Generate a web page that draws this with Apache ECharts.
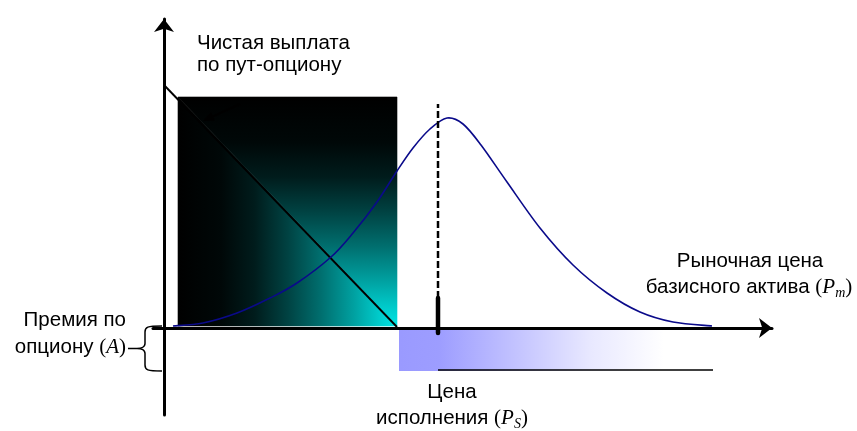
<!DOCTYPE html>
<html><head><meta charset="utf-8">
<script src="https://cdn.jsdelivr.net/npm/echarts@6/dist/echarts.min.js"></script>
<style>html,body{margin:0;padding:0;background:#fff}#c{width:857px;height:431px}</style>
</head><body><div id="c"></div>
<script>
// ---- data (schematic units: x = market price, y = payoff) ----
const densityX = [9, 39, 73, 106, 133, 167, 189, 213, 233, 249, 266, 283, 299, 317, 343, 376, 409, 443, 476, 509, 548];
const densityY = [2, 5, 15, 30, 45, 71, 95, 126, 157, 180, 199, 210, 204, 183, 146, 100, 63, 35, 16, 6, 2];
const putPayoffX = [0, 233];
const putPayoffY = [243, 1];
const gainBoxX = [14, 233];
const gainBoxY = [2, 231];
const meanPrice = 274;
const meanLineY = [30, 224];
const meanTickY = [-5, 30];
const premiumBandX = [235, 500];
const premiumBandY = [-1.5, -43];
const premiumLineX = [274, 549];
const premiumLineY = -42;
const braceX = [-36, -27, -19, -2];   // dash start, tip, spine, ends
const braceY = [2, -20.5, -43];       // top, middle, bottom
const pointerFrom = [76, 224];
const pointerTo = [39, 207];

const X0 = -11, X1 = 608, Y0 = -87, Y1 = 309;
const SANS = "'Liberation Sans', Arial, sans-serif";
const SERIF = "'Liberation Serif', 'Times New Roman', serif";
const FS = 20.5;

const chart = echarts.init(document.getElementById('c'), null, {renderer: 'canvas'});

const stops = [
  {offset: 0, color: '#000000'}, {offset: 0.2, color: '#000808'},
  {offset: 0.35, color: '#001c1c'}, {offset: 0.5, color: '#004242'},
  {offset: 0.65, color: '#006e6e'}, {offset: 0.8, color: '#00a0a0'},
  {offset: 0.92, color: '#00cccc'}, {offset: 1, color: '#00e4e4'}
];

function axisCfg(min, max) {
  return {
    type: 'value', min: min, max: max, z: 10,
    axisLine: {show: true, onZero: true, symbol: ['none', 'arrow'], symbolSize: [15, 13],
      lineStyle: {color: '#000', width: 3}},
    axisTick: {show: false}, axisLabel: {show: false}, splitLine: {show: false}
  };
}

function seg(name, pts, style, z) {
  return {type: 'line', name: name, data: pts, symbol: 'none', silent: true, z: z || 4,
    lineStyle: style, animation: false};
}

function txt(str, x, baseline, align, rich) {
  return {type: 'text', z: 20, style: {
    text: str, x: x, y: baseline - 0.34 * FS, align: align, verticalAlign: 'middle',
    font: FS + 'px ' + SANS, fill: '#000', rich: rich || undefined
  }};
}

const richMath = {
  p: {fontFamily: SERIF, fontSize: 21, lineHeight: 22},
  i: {fontFamily: SERIF, fontStyle: 'italic', fontSize: 21, lineHeight: 22},
  s: {fontFamily: SERIF, fontStyle: 'italic', fontSize: 14, lineHeight: 8, padding: [12, 0, 0, 0]},
  t: {fontFamily: SANS, fontSize: FS, lineHeight: 22}
};

const option = {
  animation: false,
  backgroundColor: '#fff',
  grid: {left: 153, right: 85, top: 19, bottom: 16},
  xAxis: axisCfg(X0, X1),
  yAxis: axisCfg(Y0, Y1),
  series: [
    {
      type: 'custom', z: 1, silent: true,
      data: [[gainBoxX[0], gainBoxY[0], gainBoxX[1], gainBoxY[1]]],
      renderItem: function (params, api) {
        const tl = api.coord([api.value(0), api.value(3)]);
        const tr = api.coord([api.value(2), api.value(3)]);
        const br = api.coord([api.value(2), api.value(1)]);
        const bl = api.coord([api.value(0), api.value(1)]);
        const gH = new echarts.graphic.LinearGradient(0, 0, 1, 0, stops);
        const gV = new echarts.graphic.LinearGradient(0, 0, 0, 1, stops);
        return {type: 'group', children: [
          {type: 'polygon', shape: {points: [bl, br, tl]}, style: {fill: gH, stroke: gH, lineWidth: 0.6}},
          {type: 'polygon', shape: {points: [tl, tr, br]}, style: {fill: gV, stroke: gV, lineWidth: 0.6}}
        ]};
      }
    },
    {
      type: 'custom', z: 1, silent: true,
      data: [[premiumBandX[0], premiumBandY[0], premiumBandX[1], premiumBandY[1]]],
      renderItem: function (params, api) {
        const a = api.coord([api.value(0), api.value(1)]);
        const b = api.coord([api.value(2), api.value(3)]);
        return {type: 'rect', shape: {x: a[0], y: a[1], width: b[0] - a[0], height: b[1] - a[1]},
          style: {fill: new echarts.graphic.LinearGradient(0, 0, 1, 0, [
            {offset: 0, color: '#9a9aff'}, {offset: 0.15, color: '#9d9dff'},
            {offset: 0.45, color: '#c4c4ff'}, {offset: 0.72, color: '#e8e8ff'},
            {offset: 1, color: '#ffffff'}])}};
      }
    },
    seg('payoff', putPayoffX.map((x, k) => [x, putPayoffY[k]]), {color: '#000', width: 1.9}, 4),
    {
      type: 'custom', name: 'density', z: 5, silent: true,
      data: densityX.map((x, k) => [x, densityY[k]]),
      renderItem: function (params, api) {
        if (params.dataIndex !== 0) return null;
        const pts = densityX.map((x, k) => api.coord([x, densityY[k]]));
        let d = 'M' + pts[0][0] + ' ' + pts[0][1];
        const t = 0.5;
        for (let k = 0; k < pts.length - 1; k++) {
          const p0 = pts[Math.max(k - 1, 0)], p1 = pts[k], p2 = pts[k + 1], p3 = pts[Math.min(k + 2, pts.length - 1)];
          const c1 = [p1[0] + (p2[0] - p0[0]) * t / 3, p1[1] + (p2[1] - p0[1]) * t / 3];
          const c2 = [p2[0] - (p3[0] - p1[0]) * t / 3, p2[1] - (p3[1] - p1[1]) * t / 3];
          d += ' C' + c1[0] + ' ' + c1[1] + ' ' + c2[0] + ' ' + c2[1] + ' ' + p2[0] + ' ' + p2[1];
        }
        return {type: 'path', shape: {pathData: d}, style: {fill: null, stroke: '#0a0a8a', lineWidth: 1.6}};
      }
    },
    seg('mean', meanLineY.map(y => [meanPrice, y]), {color: '#000', width: 2.5, type: [7, 3]}, 6),
    seg('tick', meanTickY.map(y => [meanPrice, y]), {color: '#000', width: 4.5, cap: 'round'}, 12),
    seg('premiumLine', premiumLineX.map(x => [x, premiumLineY]), {color: '#000', width: 1.5}, 6),
    {
      type: 'custom', z: 12, silent: true,
      data: [[0]],
      renderItem: function (params, api) {
        const top = api.coord([braceX[3], braceY[0]]);
        const bot = api.coord([braceX[3], braceY[2]]);
        const sx = api.coord([braceX[2], 0])[0];
        const tip = api.coord([braceX[1], braceY[1]]);
        const d0 = api.coord([braceX[0], braceY[1]]);
        const m = tip[1];
        const p = 'M' + top[0] + ' ' + top[1] +
          ' C' + (sx + 2) + ' ' + top[1] + ' ' + sx + ' ' + (top[1] + 1) + ' ' + sx + ' ' + (top[1] + 6) +
          ' L' + sx + ' ' + (m - 5) +
          ' C' + sx + ' ' + (m - 1) + ' ' + (tip[0] + 3) + ' ' + m + ' ' + tip[0] + ' ' + m +
          ' C' + (tip[0] + 3) + ' ' + m + ' ' + sx + ' ' + (m + 1) + ' ' + sx + ' ' + (m + 5) +
          ' L' + sx + ' ' + (bot[1] - 6) +
          ' C' + sx + ' ' + (bot[1] - 1) + ' ' + (sx + 2) + ' ' + bot[1] + ' ' + bot[0] + ' ' + bot[1] +
          ' M' + d0[0] + ' ' + m + ' L' + tip[0] + ' ' + m;
        return {type: 'path', shape: {pathData: p}, style: {fill: null, stroke: '#000', lineWidth: 1.5}};
      }
    },
    {
      type: 'custom', z: 7, silent: true,
      data: [[pointerFrom[0], pointerFrom[1], pointerTo[0], pointerTo[1]]],
      renderItem: function (params, api) {
        const a = api.coord([api.value(0), api.value(1)]);
        const b = api.coord([api.value(2), api.value(3)]);
        const dx = b[0] - a[0], dy = b[1] - a[1];
        const L = Math.sqrt(dx * dx + dy * dy), ux = dx / L, uy = dy / L;
        const hl = 11, hw = 4.5;
        const base = [b[0] - ux * hl, b[1] - uy * hl];
        return {type: 'group', children: [
          {type: 'line', shape: {x1: a[0], y1: a[1], x2: base[0], y2: base[1]}, style: {stroke: '#000', lineWidth: 2}},
          {type: 'polygon', shape: {points: [b, [base[0] - uy * hw, base[1] + ux * hw], [base[0] + uy * hw, base[1] - ux * hw]]},
            style: {fill: '#000'}}
        ]};
      }
    }
  ],
  graphic: [
    txt('Чистая выплата', 197, 50, 'left'),
    txt('по пут-опциону', 197, 72, 'left'),
    txt('Премия по', 126, 327, 'right'),
    txt('{t|опциону }{p|(}{i|A}{p|)}', 126, 354, 'right', richMath),
    txt('Цена', 452, 399, 'center'),
    txt('{t|исполнения }{p|(}{i|P}{s|S}{p|)}', 452, 425, 'center', richMath),
    txt('Рыночная цена', 750, 268, 'center'),
    txt('{t|базисного актива }{p|(}{i|P}{s|m}{p|)}', 749, 294, 'center', richMath)
  ]
};
chart.setOption(option);
</script></body></html>
